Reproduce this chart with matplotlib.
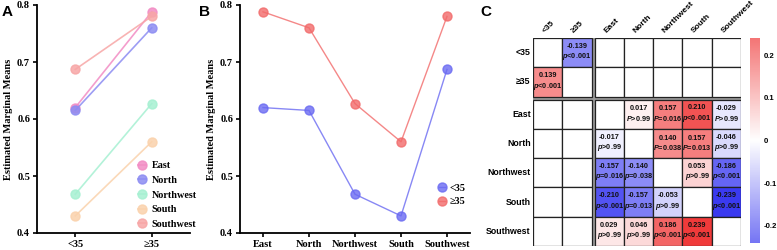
"""Age group x region marginal means and pairwise differences"""

import numpy as np
import matplotlib
matplotlib.use('Agg')
import matplotlib.pyplot as plt
from matplotlib.colors import LinearSegmentedColormap, Normalize
from matplotlib.patches import Rectangle

plt.rcParams['mathtext.fontset'] = 'custom'
plt.rcParams['mathtext.rm'] = 'Liberation Sans:bold'
plt.rcParams['mathtext.it'] = 'Liberation Sans:italic:bold'
plt.rcParams['mathtext.bf'] = 'Liberation Sans:bold'

# data
ages = ['<35', '≥35']
regions = ['East', 'North', 'Northwest', 'South', 'Southwest']
means_young = [0.620, 0.615, 0.468, 0.430, 0.687]
means_old = [0.788, 0.760, 0.627, 0.560, 0.780]

region_colors = ['#f28cc4', '#8c8cf2', '#a6f0d2', '#fad2ac', '#f7a6a6']
age_colors = ['#6a6af2', '#f26a6a']

# pairwise differences (row - col) and p labels, None = empty cell
labels_c = ['<35', '≥35', 'East', 'North', 'Northwest', 'South', 'Southwest']
diff = [
    [None, -0.139, None, None, None, None, None],
    [0.139, None, None, None, None, None, None],
    [None, None, None, 0.017, 0.157, 0.210, -0.029],
    [None, None, -0.017, None, 0.140, 0.157, -0.046],
    [None, None, -0.157, -0.140, None, 0.053, -0.186],
    [None, None, -0.210, -0.157, -0.053, None, -0.239],
    [None, None, 0.029, 0.046, 0.186, 0.239, None],
]
pvals = [
    [None, 'p<0.001', None, None, None, None, None],
    ['p<0.001', None, None, None, None, None, None],
    [None, None, None, 'P>0.99', 'P=0.016', 'p<0.001', 'P>0.99'],
    [None, None, 'p>0.99', None, 'P=0.038', 'P=0.013', 'p>0.99'],
    [None, None, 'p=0.016', 'p=0.038', None, 'p>0.99', 'p<0.001'],
    [None, None, 'p<0.001', 'p=0.013', 'p>0.99', None, 'p<0.001'],
    [None, None, 'p>0.99', 'p>0.99', 'p<0.001', 'p<0.001', None],
]

W, H = 777, 250
fig = plt.figure(figsize=(W / 100, H / 100), dpi=100)


def px_axes(x0, y0, x1, y1):
    # pixel box (from top-left) -> figure axes
    return fig.add_axes([x0 / W, 1 - y1 / H, (x1 - x0) / W, (y1 - y0) / H])


serif = 'Liberation Serif'
sans = 'Liberation Sans'


def style_line_axes(ax):
    for s in ['top', 'right']:
        ax.spines[s].set_visible(False)
    for s in ['left', 'bottom']:
        ax.spines[s].set_linewidth(1.3)
    ax.set_ylim(0.4, 0.8)
    ax.set_yticks([0.4, 0.5, 0.6, 0.7, 0.8])
    ax.set_yticklabels(['0.4', '0.5', '0.6', '0.7', '0.8'])
    ax.tick_params(length=3, width=1.2, pad=2)
    for t in ax.get_xticklabels() + ax.get_yticklabels():
        t.set_fontfamily(serif)
        t.set_fontweight('bold')
        t.set_fontsize(7.5)
    ax.set_ylabel('Estimated Marginal Means', fontfamily=serif, fontweight='bold',
                  fontsize=7.5, labelpad=3)


# Panel A
axA = px_axes(37, 5, 190, 233)
for i, r in enumerate(regions):
    axA.plot([0, 1], [means_young[i], means_old[i]], '-', color=region_colors[i],
             lw=1.2, marker='o', ms=6.5, alpha=0.85, label=r)
axA.set_xlim(-0.5, 1.5)
axA.set_xticks([0, 1])
axA.set_xticklabels(ages)
style_line_axes(axA)
axA.legend(loc='lower right', frameon=False, prop={'family': serif, 'weight': 'bold', 'size': 7.3},
           handlelength=0.8, handletextpad=0.5, labelspacing=0.55, borderaxespad=0.0,
           bbox_to_anchor=(1.07, 0.0))

# Panel B
axB = px_axes(240, 5, 470, 233)
xs = np.arange(len(regions))
axB.plot(xs, means_young, '-', color=age_colors[0], lw=1.0, marker='o', ms=6.5, alpha=0.8, label=ages[0])
axB.plot(xs, means_old, '-', color=age_colors[1], lw=1.0, marker='o', ms=6.5, alpha=0.8, label=ages[1])
axB.set_xlim(-0.5, 4.5)
axB.set_xticks(xs)
axB.set_xticklabels(regions)
style_line_axes(axB)
axB.legend(loc='lower right', frameon=False, prop={'family': serif, 'weight': 'bold', 'size': 7.3},
           handlelength=0.6, handletextpad=0.5, labelspacing=0.4, borderaxespad=0.0,
           bbox_to_anchor=(1.0, 0.1))

# Panel C
cmap = LinearSegmentedColormap.from_list('bwr2', ['#3a3af0', '#ffffff', '#f03a3a'])
norm = Normalize(-0.24, 0.24)
gap = 0.1
n = len(labels_c)
axC = px_axes(533, 38, 741, 246)
axC.set_xlim(0, n + gap)
axC.set_ylim(n + gap, 0)
axC.axis('off')


def pos(k):
    return k + (gap if k >= 2 else 0)


axC.add_patch(Rectangle((2, 0), gap, n + gap, facecolor='#9a9a9a', edgecolor='none'))
axC.add_patch(Rectangle((0, 2), n + gap, gap, facecolor='#9a9a9a', edgecolor='none'))
for i in range(n):
    for j in range(n):
        v = diff[i][j]
        fc = 'white' if v is None else cmap(norm(v))
        axC.add_patch(Rectangle((pos(j), pos(i)), 1, 1, facecolor=fc, edgecolor='#222222', lw=0.9))
        if v is not None:
            p = pvals[i][j]
            ptxt = r'$\it{' + p[0] + '}$' + p[1:]
            axC.text(pos(j) + 0.5, pos(i) + 0.5, f'{v:.3f}\n{ptxt}', ha='center', va='center',
                     fontfamily=sans, fontweight='bold', fontsize=5.3, color='#111111', linespacing=1.2)
for k, lab in enumerate(labels_c):
    axC.text(-0.08, pos(k) + 0.5, lab, ha='right', va='center', fontfamily=sans, fontweight='bold',
             fontsize=6.3)
    axC.text(pos(k) + 0.45, -0.12, lab, ha='left', va='bottom', rotation=45, rotation_mode='anchor',
             fontfamily=sans, fontweight='bold', fontsize=6)

# colorbar
axCB = px_axes(750, 38, 760, 243)
grad = np.linspace(-0.24, 0.24, 256).reshape(-1, 1)
axCB.imshow(grad, aspect='auto', cmap=cmap, norm=norm, origin='lower', extent=[0, 1, -0.24, 0.24], alpha=0.7)
axCB.set_xticks([])
axCB.yaxis.tick_right()
axCB.set_yticks([-0.2, -0.1, 0, 0.1, 0.2])
axCB.set_yticklabels(['-0.2', '-0.1', '0', '0.1', '0.2'])
axCB.tick_params(length=0, pad=3)
for t in axCB.get_yticklabels():
    t.set_fontfamily(sans)
    t.set_fontweight('bold')
    t.set_fontsize(5.6)
for s in axCB.spines.values():
    s.set_visible(False)

# panel letters
fig.text(2 / W, 1 - 12 / H, 'A', fontfamily=sans, fontweight='bold', fontsize=11, va='center')
fig.text(199 / W, 1 - 12 / H, 'B', fontfamily=sans, fontweight='bold', fontsize=11, va='center')
fig.text(480 / W, 1 - 12 / H, 'C', fontfamily=sans, fontweight='bold', fontsize=11, va='center')

fig.savefig('out.png', dpi=100)
